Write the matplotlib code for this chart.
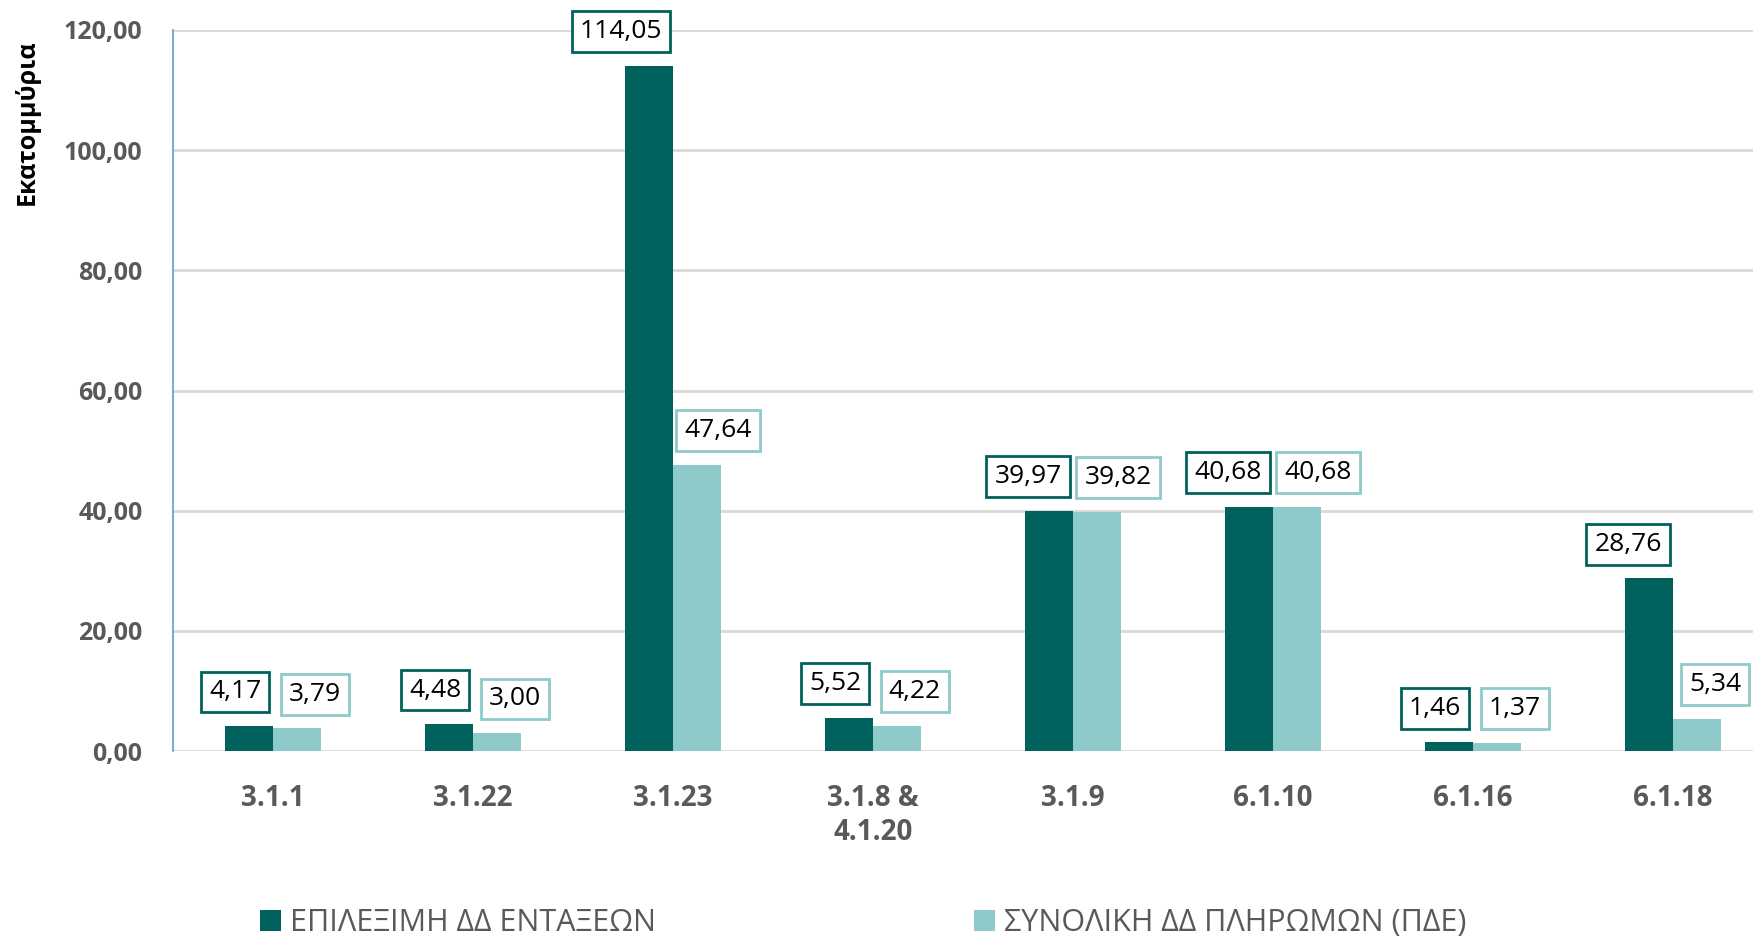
import matplotlib.pyplot as plt
import numpy as np

# data (millions)
categories = ['3.1.1', '3.1.22', '3.1.23', '3.1.8 &\n4.1.20', '3.1.9', '6.1.10', '6.1.16', '6.1.18']
eligible = [4.17, 4.48, 114.05, 5.52, 39.97, 40.68, 1.46, 28.76]
payments = [3.79, 3.00, 47.64, 4.22, 39.82, 40.68, 1.37, 5.34]
series_names = ['ΕΠΙΛΕΞΙΜΗ ΔΔ ΕΝΤΑΞΕΩΝ', 'ΣΥΝΟΛΙΚΗ ΔΔ ΠΛΗΡΩΜΩΝ (ΠΔΕ)']
y_ticks = [0, 20, 40, 60, 80, 100, 120]

dark = '#01615C'
light = '#8FCACA'
grey = '#595959'

plt.rcParams['font.family'] = ['Open Sans', 'DejaVu Sans']

fig = plt.figure(figsize=(17.53, 9.39), dpi=100)
ax = fig.add_axes([173 / 1753, 1 - 751 / 939, 1600 / 1753, (751 - 30) / 939])

x = np.arange(len(categories))
w = 0.24
b1 = ax.bar(x - w / 2, eligible, w, color=dark, zorder=3)
b2 = ax.bar(x + w / 2, payments, w, color=light, zorder=3)

ax.set_xlim(-0.5, len(categories) - 0.5)
ax.set_ylim(0, 120)
ax.set_yticks(y_ticks)
ax.set_yticklabels([f'{t:.2f}'.replace('.', ',') for t in y_ticks])
ax.set_xticks(x)
ax.set_xticklabels(categories)
ax.tick_params(axis='y', length=0, pad=22, labelsize=18, labelcolor=grey)
ax.tick_params(axis='x', length=0, pad=24, labelsize=20, labelcolor=grey)
for lab in ax.get_xticklabels() + ax.get_yticklabels():
    lab.set_fontweight('bold')

ax.grid(axis='y', color='#D9D9D9', linewidth=2, zorder=0)
for s in ['top', 'right', 'bottom']:
    ax.spines[s].set_visible(False)
ax.spines['left'].set_color('#5B9BD5')
ax.spines['left'].set_linewidth(1.2)

ax.set_ylabel('Εκατομμύρια', fontsize=18, fontweight='bold', color='black')
ax.yaxis.set_label_coords(-133 / 1600, 0.872)


def label_bars(vals, xs, color, side):
    for xi, v in zip(xs, vals):
        txt = f'{v:.2f}'.replace('.', ',')
        n = len(txt)
        dx = -(7 * n - 14) if side < 0 else 6 + 3 * n
        ax.annotate(txt, xy=(xi, v), xytext=(dx, 34),
                    textcoords='offset pixels', ha='center', va='center',
                    fontsize=19, color='black', zorder=5,
                    bbox=dict(boxstyle='square,pad=0.3', fc='white', ec=color, lw=2))


label_bars(eligible, x - w / 2, dark, -1)
label_bars(payments, x + w / 2, light, 1)

fig.legend([b1, b2], series_names, loc='center left', bbox_to_anchor=(232 / 1753, 1 - 923 / 939),
           ncol=2, frameon=False, fontsize=22, labelcolor=grey,
           handlelength=0.7, handleheight=0.7, handletextpad=0.3, columnspacing=10.4)

fig.savefig('out.png', dpi=100)
